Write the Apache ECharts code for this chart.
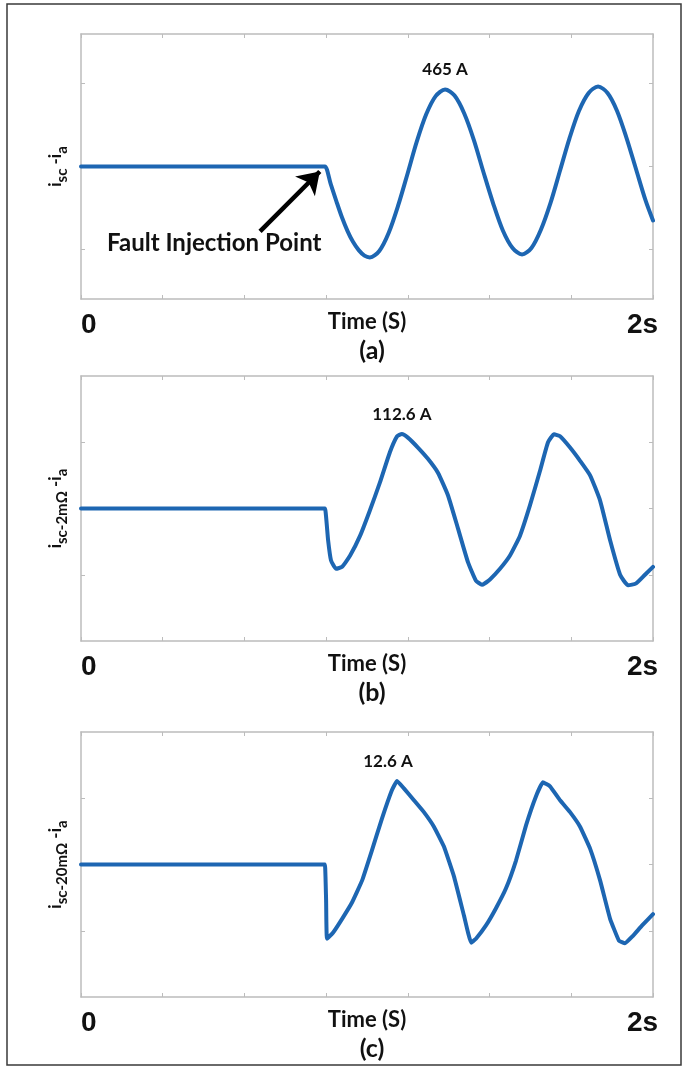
<!DOCTYPE html>
<html>
<head>
<meta charset="utf-8">
<script src="https://cdn.jsdelivr.net/npm/echarts@6/dist/echarts.min.js"></script>
<style>
  html, body { margin: 0; padding: 0; background: #ffffff; }
  #chart { width: 684px; height: 1069px; }
</style>
</head>
<body>
<div id="chart"></div>
<script>
// Short-circuit current difference after fault injection, three fault resistances.
// Time in seconds, current difference in amperes.

const timeA = [0, 0.845, 0.853, 0.873, 0.893, 0.912, 0.932, 0.951, 0.971, 0.991, 1.010,
  1.043, 1.076, 1.109, 1.142, 1.174, 1.207, 1.240, 1.273,
  1.306, 1.340, 1.374, 1.407, 1.441, 1.475, 1.509, 1.542,
  1.575, 1.608, 1.642, 1.675, 1.708, 1.741, 1.775, 1.808,
  1.841, 1.874, 1.907, 1.941, 1.974, 2.000];
const currentA = [0, 0, 0, -105, -210, -305, -390, -455, -505, -538, -549,
  -510, -400, -235, -42, 150, 315, 425, 465,
  428, 320, 158, -33, -222, -386, -492, -531,
  -492, -382, -218, -24, 170, 335, 444, 483,
  444, 337, 175, -18, -205, -326];

const timeB = [0, 0.845, 0.853, 0.864, 0.874, 0.892, 0.913, 0.941, 0.976, 1.010, 1.045, 1.080, 1.105, 1.122,
  1.143, 1.178, 1.213, 1.248, 1.283, 1.318, 1.353, 1.381, 1.402, 1.430, 1.465, 1.500, 1.535, 1.570,
  1.605, 1.633, 1.654, 1.675, 1.710, 1.745, 1.780, 1.815, 1.850, 1.885, 1.913, 1.941, 1.972, 2.000];
const currentB = [0, 0, 0, -48, -78, -91, -88, -71, -41, -3, 39, 85, 109, 112.6,
  107, 92, 75, 54, 20, -30, -81, -109, -115, -107, -91, -71, -41, 5,
  57, 100, 112, 109, 92, 72, 50, 12, -48, -100, -116, -113, -100, -88];

const timeC = [0, 0.845, 0.853, 0.857, 0.860, 0.881, 0.913, 0.948, 0.983, 1.017, 1.052, 1.087, 1.105, 1.129,
  1.164, 1.199, 1.234, 1.269, 1.304, 1.339, 1.364, 1.381, 1.416, 1.451, 1.486, 1.521, 1.556, 1.591,
  1.615, 1.640, 1.675, 1.710, 1.745, 1.780, 1.815, 1.850, 1.881, 1.902, 1.927, 1.962, 2.000];
const currentC = [0, 0, 0, -5.4, -11.2, -10.3, -8.2, -5.7, -2.4, 2.1, 6.9, 11.2, 12.6, 11.5,
  9.7, 7.9, 5.7, 2.7, -1.8, -7.7, -11.8, -11.2, -9.2, -6.6, -3.6, 0.6, 5.9, 10.3,
  12.4, 11.8, 9.7, 7.9, 5.7, 2.4, -2.4, -8.2, -11.5, -11.9, -10.9, -9.2, -7.5];

// Labelled peak currents
const peakA = 465;
const peakB = 112.6;
const peakC = 12.6;

// Axis ranges and tick values
const yLimitA = 800, yTicksA = [-500, 0, 500];
const yLimitB = 200, yTicksB = [-100, 0, 100];
const yLimitC = 20, yTicksC = [-10, 0, 10];
const xEnd = 2;
const xDivisions = 7;
const xLabels = ['0', '2s'];
const xName = 'Time (S)';
const panelTags = ['(a)', '(b)', '(c)'];
const yNames = [
  '{m|i}{s|sc}{m| -i}{s|a}',
  '{m|i}{s|sc-2m\u03A9}{m| -i}{s|a}',
  '{m|i}{s|sc-20m\u03A9}{m| -i}{s|a}'
];

// Fault injection arrow (tail, head) in data coordinates of panel (a)
const arrowTail = [0.626, -392];
const arrowHead = [0.835, -30];
const faultText = 'Fault Injection Point';

const BLUE = '#1d66b2';
const AXIS = '#bcbcbc';
const INK = '#111111';
const SANS = 'Lato, "Open Sans", sans-serif';
const ARIAL = '"Liberation Sans", Arial, sans-serif';

const chart = echarts.init(document.getElementById('chart'), null, { renderer: 'canvas' });

const panels = [
  { t: timeA, v: currentA, peak: peakA, lim: yLimitA, ticks: yTicksA, top: 34, labelOffset: [0, 0], smooth: 0.3 },
  { t: timeB, v: currentB, peak: peakB, lim: yLimitB, ticks: yTicksB, top: 376, labelOffset: [0, 0], smooth: 0.15 },
  { t: timeC, v: currentC, peak: peakC, lim: yLimitC, ticks: yTicksC, top: 732, labelOffset: [-9, 0], smooth: 0.1 }
];

const gridLeft = 81, gridWidth = 572, gridHeight = 265;
const xTickValues = [];
for (let k = 0; k <= xDivisions; k++) xTickValues.push(xEnd * k / xDivisions);

const grid = [], xAxis = [], yAxis = [], series = [], title = [];

panels.forEach((p, i) => {
  grid.push({ left: gridLeft, top: p.top, width: gridWidth, height: gridHeight, containLabel: false });

  const lineStyle = { color: AXIS, width: 1.5 };
  const tick = { show: true, inside: true, length: 4, lineStyle: { color: AXIS, width: 1 }, customValues: xTickValues };

  xAxis.push({
    gridIndex: i, type: 'value', min: 0, max: xEnd, position: 'bottom',
    axisLine: { show: true, onZero: false, lineStyle },
    axisTick: tick,
    splitLine: { show: false },
    axisLabel: {
      show: true, customValues: [0, xEnd], margin: 12,
      formatter: v => (v === 0 ? '{l|' + xLabels[0] + '}' : '{r|' + xLabels[1] + '}'),
      alignMinLabel: 'left', alignMaxLabel: 'center',
      rich: {
        l: { fontFamily: ARIAL, fontWeight: 'bold', fontSize: 28, color: INK },
        r: { fontFamily: ARIAL, fontWeight: 'bold', fontSize: 28, color: INK, padding: [0, 21, 0, 0] }
      }
    },
    name: xName, nameLocation: 'middle', nameGap: 12, nameMoveOverlap: false,
    nameTextStyle: { fontFamily: SANS, fontWeight: 'bold', fontSize: 22, color: INK }
  });
  xAxis.push({
    gridIndex: i, type: 'value', min: 0, max: xEnd, position: 'top',
    axisLine: { show: true, onZero: false, lineStyle },
    axisTick: tick, axisLabel: { show: false }, splitLine: { show: false }
  });

  const ytick = { show: true, inside: true, length: 4, lineStyle: { color: AXIS, width: 1 }, customValues: p.ticks };
  yAxis.push({
    gridIndex: i, type: 'value', min: -p.lim, max: p.lim, position: 'left',
    axisLine: { show: true, onZero: false, lineStyle },
    axisTick: ytick, axisLabel: { show: false }, splitLine: { show: false },
    name: yNames[i], nameLocation: 'middle', nameRotate: 90, nameGap: 11,
    nameTextStyle: {
      rich: {
        m: { fontFamily: SANS, fontWeight: 'bold', fontSize: 17, color: INK },
        s: { fontFamily: SANS, fontWeight: 'bold', fontSize: 15, color: INK, padding: [13, 0, 0, 0] }
      }
    }
  });
  yAxis.push({
    gridIndex: i, type: 'value', min: -p.lim, max: p.lim, position: 'right',
    axisLine: { show: true, onZero: false, lineStyle },
    axisTick: ytick, axisLabel: { show: false }, splitLine: { show: false }
  });

  const data = p.t.map((t, k) => [t, p.v[k]]);
  const peakIndex = p.v.indexOf(p.peak);

  const s = {
    type: 'line', xAxisIndex: i * 2, yAxisIndex: i * 2, data,
    showSymbol: false, symbol: 'none', smooth: p.smooth,
    lineStyle: { color: BLUE, width: 4, cap: 'round', join: 'round' },
    itemStyle: { color: BLUE },
    animation: false, silent: true, z: 3,
    markPoint: {
      silent: true, animation: false,
      symbol: 'circle', symbolSize: 2, itemStyle: { color: 'rgba(0,0,0,0)' },
      label: {
        show: true, position: 'top', distance: 10, offset: p.labelOffset,
        formatter: d => d.value + ' A',
        fontFamily: SANS, fontWeight: 'bold', fontSize: 17, color: INK
      },
      data: [{ coord: data[peakIndex], value: p.peak }]
    }
  };
  if (i === 0) {
    s.markLine = {
      silent: true, animation: false,
      symbol: ['none', 'arrow'], symbolSize: 21,
      lineStyle: { color: '#000', width: 4.5, type: 'solid' },
      label: { show: false },
      data: [[{ coord: arrowTail }, { coord: arrowHead }]]
    };
  }
  series.push(s);

  title.push({
    text: panelTags[i], left: 367, top: p.top + gridHeight + 34, textAlign: 'center',
    textStyle: { fontFamily: SANS, fontWeight: 'bold', fontSize: 25, color: INK }
  });
});

chart.setOption({
  animation: false,
  backgroundColor: '#ffffff',
  title, grid, xAxis, yAxis, series,
  graphic: [
    {
      type: 'rect', shape: { x: 7, y: 4, width: 674, height: 1061 },
      style: { fill: 'none', stroke: '#3a3a3a', lineWidth: 1.5 }, silent: true
    },
    {
      type: 'text', left: 107, top: 231,
      style: { text: faultText, fontFamily: SANS, fontWeight: 'bold', fontSize: 24, fill: INK }
    }
  ]
});
</script>
</body>
</html>
